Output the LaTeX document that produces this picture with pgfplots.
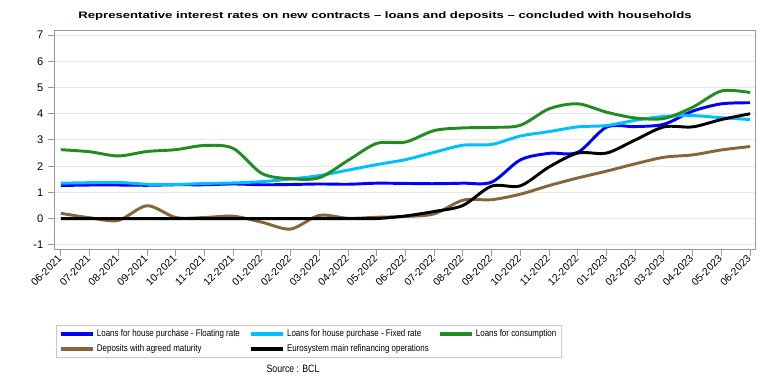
\documentclass[border=0pt]{standalone}
\usepackage{pgfplots}
\pgfplotsset{compat=1.18}
\usepackage{pgfplotstable}
\usepackage{graphicx}
\usepackage{fontspec}
\setmainfont{Liberation Sans}
\newfontfamily\narrowfont[FakeStretch=0.82]{Liberation Sans}
\definecolor{cfloat}{RGB}{0,0,255}
\definecolor{cfixed}{RGB}{0,191,255}
\definecolor{ccons}{RGB}{34,139,34}
\definecolor{cdep}{RGB}{135,100,60}
\definecolor{axisgray}{RGB}{150,155,162}
\definecolor{gridgray}{RGB}{232,232,232}
\definecolor{legendgray}{RGB}{200,200,200}

\pgfplotstableread{
idx fl fx cons dep mro
0 1.26 1.35 2.63 0.20 0
1 1.28 1.37 2.55 0.03 0
2 1.28 1.38 2.39 -0.07 0
3 1.27 1.31 2.56 0.49 0
4 1.29 1.30 2.63 0.04 0
5 1.29 1.34 2.79 0.04 0
6 1.32 1.36 2.68 0.09 0
7 1.29 1.41 1.72 -0.14 0
8 1.30 1.51 1.52 -0.40 0
9 1.32 1.64 1.56 0.12 0
10 1.31 1.85 2.22 0.01 0
11 1.35 2.06 2.87 0.05 0
12 1.34 2.25 2.92 0.08 0.10
13 1.33 2.53 3.36 0.18 0.27
14 1.35 2.80 3.46 0.70 0.50
15 1.39 2.83 3.48 0.72 1.24
16 2.24 3.15 3.56 0.93 1.25
17 2.49 3.32 4.19 1.26 1.97
18 2.53 3.50 4.38 1.55 2.50
19 3.49 3.55 4.06 1.81 2.50
20 3.51 3.75 3.84 2.09 3.00
21 3.60 3.90 3.82 2.34 3.50
22 4.10 3.93 4.25 2.43 3.50
23 4.38 3.85 4.87 2.62 3.78
24 4.42 3.78 4.81 2.75 4.00
}\ratestable

\begin{document}
\begin{tikzpicture}[x=0.75pt,y=0.75pt]
\useasboundingbox (0,0) rectangle (768,384);
\node[anchor=base] at (385,365.7) {\resizebox{460pt}{5.1pt}{\bfseries Representative interest rates on new contracts -- loans and deposits -- concluded with households}};
\begin{axis}[
  at={(40.5pt,100.5pt)}, anchor=south west, scale only axis,
  width=525.75pt, height=164.25pt,
  xmin=-0.24, xmax=24.17, ymin=-1.2, ymax=7.16,
  xtick={0,...,24},
  xticklabels={06-2021,07-2021,08-2021,09-2021,10-2021,11-2021,12-2021,01-2022,02-2022,03-2022,04-2022,05-2022,06-2022,07-2022,08-2022,09-2022,10-2022,11-2022,12-2022,01-2023,02-2023,03-2023,04-2023,05-2023,06-2023},
  ytick={-1,0,...,7},
  tick align=outside, tick pos=left,
  major tick length=4.5pt,
  tick style={color=axisgray, line width=0.75pt},
  axis line style={color=axisgray, line width=0.75pt},
  ymajorgrids, grid style={color=gridgray, line width=0.75pt},
  xticklabel style={rotate=45, anchor=east, font=\fontsize{7.8}{8}\selectfont, inner sep=1pt},
  yticklabel style={font=\fontsize{8.3}{9}\selectfont},
  /pgf/number format/assume math mode=true,
  legend style={at={(0.3638,-0.4178)}, anchor=center, draw=legendgray, line width=0.75pt,
    font=\narrowfont\fontsize{7.26}{8.5}\selectfont, legend columns=3,
    inner xsep=2pt, inner ysep=1pt, row sep=0.5pt,
    /tikz/every even column/.append style={column sep=5pt}},
  legend cell align=left,
  legend image code/.code={\draw[#1,line width=2.4pt] (0pt,0pt) -- (24pt,0pt);},
  every axis plot/.append style={line width=2.2pt, smooth, tension=0.5},
]
\addplot[cfloat] table[x=idx,y=fl]{\ratestable};
\addlegendentry{Loans for house purchase - Floating rate}
\addplot[cfixed] table[x=idx,y=fx]{\ratestable};
\addlegendentry{Loans for house purchase - Fixed rate}
\addplot[ccons] table[x=idx,y=cons]{\ratestable};
\addlegendentry{Loans for consumption}
\addplot[cdep] table[x=idx,y=dep]{\ratestable};
\addlegendentry{Deposits with agreed maturity}
\addplot[black] table[x=idx,y=mro]{\ratestable};
\addlegendentry{Eurosystem main refinancing operations}
\end{axis}
\node[anchor=base, font=\narrowfont\fontsize{8}{9}\selectfont] at (293,11) {Source : BCL};
\end{tikzpicture}
\end{document}
